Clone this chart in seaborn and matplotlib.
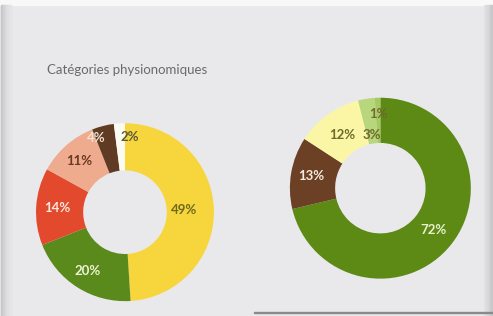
import matplotlib
matplotlib.use("Agg")
import matplotlib.pyplot as plt
from matplotlib.patches import Rectangle
import seaborn as sns
import numpy as np

# left chart: physiognomic categories
left_values = [49, 20, 14, 11, 4, 2]
left_colors = ["#f6d63c", "#5b8a1c", "#e2492d", "#efab8d", "#5e3b22", "#fbfbf2"]
left_text_colors = ["#6e6a1e", "#eef3d6", "#fbe9e0", "#6a3a22", "#efe3d2", "#5a5a3a"]

# right chart
right_values = [72, 13, 12, 3, 1]
right_colors = ["#5c8a15", "#6c4024", "#fbf6a6", "#b8d67c", "#a6c963"]
right_text_colors = ["#e9f2cf", "#f6ece0", "#6e6a2a", "#6e6a2a", "#6e6a2a"]

title = "Catégories physionomiques"

sns.set_theme(style="white")
plt.rcParams['font.family'] = ['Lato', 'DejaVu Sans']

bg = "#e9e9eb"
fig = plt.figure(figsize=(4.93, 3.16), dpi=100, facecolor=bg)

# panel decorations
fig.patches.append(Rectangle((0, 0.985), 1, 0.015, transform=fig.transFigure,
                             color="#f8f8f8", zorder=0))
for i, c in enumerate(["#c8c8ca", "#d2d2d4", "#dadadc", "#e0e0e2", "#e4e4e6"]):
    fig.patches.append(Rectangle((0.002 + i * 0.004, 0), 0.004, 0.985,
                                 transform=fig.transFigure, color=c, zorder=0))
for i, c in enumerate(["#e2e2e4", "#dadadc", "#d0d0d2", "#c8c8ca"]):
    fig.patches.append(Rectangle((0.982 + i * 0.0045, 0), 0.0045, 0.985,
                                 transform=fig.transFigure, color=c, zorder=0))
fig.patches.append(Rectangle((0.515, 0.008), 0.485, 0.006, transform=fig.transFigure,
                             color="#8a8a8c", zorder=1))

fig.text(0.095, 0.78, title, fontsize=9.5, color="#6a6a6c",
         ha="left", va="center")


def donut(ax, values, colors, text_colors, hole, label_r, label_ha):
    wedges, texts = ax.pie(values, colors=colors, startangle=90, counterclock=False,
                           wedgeprops=dict(width=1 - hole, edgecolor="none"))
    total = float(sum(values))
    start = 90.0
    for v, tc, r, ha in zip(values, text_colors, label_r, label_ha):
        ang = np.deg2rad(start - 360.0 * v / total / 2)
        start -= 360.0 * v / total
        ax.text(r * np.cos(ang), r * np.sin(ang), f"{v}%", ha=ha, va="center",
                fontsize=9.5, fontweight="bold", color=tc)
    ax.set_xlim(-1, 1)
    ax.set_ylim(-1, 1)
    ax.set_aspect("equal")
    ax.axis("off")


ax1 = fig.add_axes([0.073, 0.047, 0.361, 0.563])
donut(ax1, left_values, left_colors, left_text_colors, 0.47,
      [0.66, 0.78, 0.76, 0.77, 0.86, 0.85],
      ["center", "center", "center", "center", "right", "left"])

ax2 = fig.add_axes([0.588, 0.118, 0.367, 0.573])
donut(ax2, right_values, right_colors, right_text_colors, 0.5,
      [0.75, 0.78, 0.72, 0.6, 0.82],
      ["center"] * 5)

fig.savefig("out.png", dpi=100, facecolor=bg)
